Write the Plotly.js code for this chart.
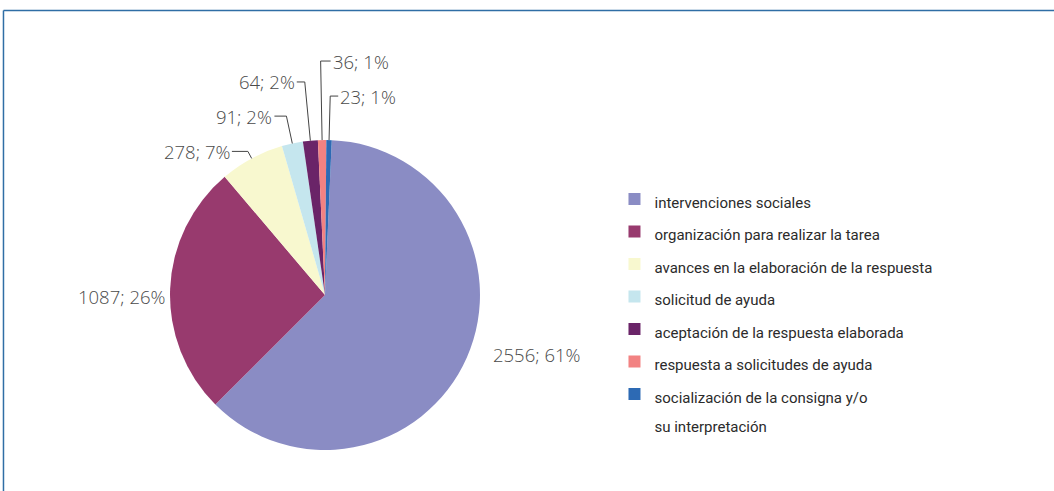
<!DOCTYPE html>
<html>
<head>
<meta charset="utf-8">
<script src="https://cdn.plot.ly/plotly-3.0.1.min.js"></script>
<style>html,body{margin:0;padding:0;background:#fff;}#chart{width:1054px;height:491px;}</style>
</head>
<body>
<div id="chart"></div>
<script>
// ---- data ----
const categories = [
  "intervenciones sociales",
  "organización para realizar la tarea",
  "avances en la elaboración de la respuesta",
  "solicitud de ayuda",
  "aceptación de la respuesta elaborada",
  "respuesta a solicitudes de ayuda",
  "socialización de la consigna y/o<br>su interpretación"
];
const values = [2556, 1087, 278, 91, 64, 36, 23];
const percentLabels = [61, 26, 7, 2, 2, 1, 1];

// ---- styles / placement ----
const colors = ["#8a8cc4", "#983a6e", "#f8f8cf", "#c5e6ee", "#6a2468", "#f28282", "#2d6ab4"];
const W = 1054, H = 491;
const domainX = [0.1613, 0.4554], domainY = [0.0835, 0.7149];
const rotationDeg = 2.5;
// label placement relative to slice edge: leader = radial length + horizontal run (px); free = offset without leader
const labelPlacement = [
  {free: true, dx: 24, dy: -3, anchor: 'left'},
  {free: true, dx: -2, dy: 8, anchor: 'right'},
  {len: 8, run: -16},
  {len: 28, run: -12},
  {len: 59, run: -8},
  {len: 79, run: 10},
  {len: 44, run: 8}
];

const legendLabels = categories.map(c => '<span style="font-size:15px">' + c + '</span>');

const trace = {
  type: 'pie',
  labels: legendLabels,
  values: values,
  sort: false,
  direction: 'clockwise',
  rotation: rotationDeg,
  marker: {colors: colors, line: {width: 0}},
  textinfo: 'none',
  hoverinfo: 'none',
  domain: {x: domainX, y: domainY},
  automargin: false
};

// geometry of the pie as Plotly lays it out
const cx = (domainX[0] + domainX[1]) / 2 * W;
const cy = H * (1 - (domainY[0] + domainY[1]) / 2);
const r = Math.min((domainX[1] - domainX[0]) * W, (domainY[1] - domainY[0]) * H) / 2;
const total = values.reduce((a, b) => a + b, 0);

const annotations = [];
const shapes = [
  {type: 'line', xref: 'paper', yref: 'paper', x0: 0.0033, x1: 1, y0: 0.9786, y1: 0.9786, line: {color: '#2f6ea5', width: 1.5}},
  {type: 'line', xref: 'paper', yref: 'paper', x0: 0.0033, x1: 0.0033, y0: 0.9786, y1: 0, line: {color: '#2f6ea5', width: 1.5}}
];
const px = x => x / W, py = y => 1 - y / H;
const labelFont = {family: '"Open Sans", sans-serif', size: 18.5, color: '#4a4a4a', weight: 300};

let cum = 0;
values.forEach((v, i) => {
  const mid = (rotationDeg * Math.PI / 180) + 2 * Math.PI * (cum + v / 2) / total;
  cum += v;
  const ux = Math.sin(mid), uy = -Math.cos(mid);
  const ex = cx + r * ux, ey = cy + r * uy;
  const text = values[i] + '; ' + percentLabels[i] + '%';
  const p = labelPlacement[i];
  if (p.free) {
    annotations.push({xref: 'paper', yref: 'paper', x: px(ex + p.dx), y: py(ey + p.dy),
      text: text, showarrow: false, xanchor: p.anchor, yanchor: 'middle', font: labelFont});
  } else {
    const kx = ex + ux * p.len, ky = ey + uy * p.len;
    const hx = kx + p.run;
    shapes.push({type: 'line', xref: 'paper', yref: 'paper', x0: px(ex), y0: py(ey), x1: px(kx), y1: py(ky), line: {color: '#444444', width: 1}});
    shapes.push({type: 'line', xref: 'paper', yref: 'paper', x0: px(kx), y0: py(ky), x1: px(hx), y1: py(ky), line: {color: '#444444', width: 1}});
    annotations.push({xref: 'paper', yref: 'paper', x: px(hx), y: py(ky),
      text: text, showarrow: false, xanchor: p.run < 0 ? 'right' : 'left', yanchor: 'middle', font: labelFont});
  }
});

const layout = {
  width: W, height: H,
  margin: {l: 0, r: 0, t: 0, b: 0},
  paper_bgcolor: '#ffffff',
  showlegend: true,
  legend: {
    x: 0.583, xanchor: 'left', y: 0.638, yanchor: 'top',
    font: {family: 'Roboto, sans-serif', size: 22.7, color: '#2b2b2b'},
    valign: 'top',
    bgcolor: 'rgba(0,0,0,0)'
  },
  shapes: shapes,
  annotations: annotations
};

Plotly.newPlot('chart', [trace], layout, {displayModeBar: false, staticPlot: true});
</script>
</body>
</html>
